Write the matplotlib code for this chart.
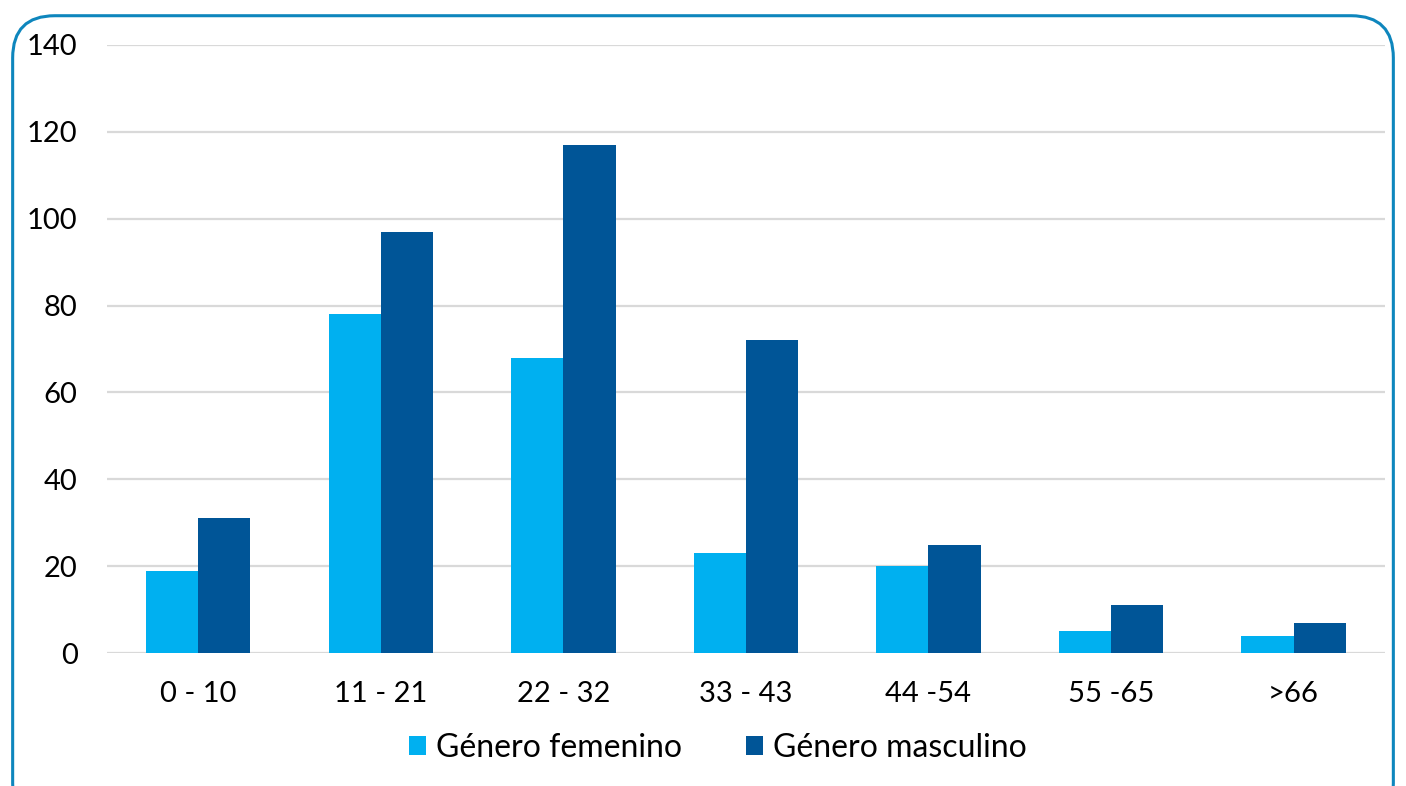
import numpy as np
import matplotlib.pyplot as plt
from matplotlib.patches import FancyBboxPatch

categories = ['0 - 10', '11 - 21', '22 - 32', '33 - 43', '44 -54', '55 -65', '>66']
femenino = [19, 78, 68, 23, 20, 5, 4]
masculino = [31, 97, 117, 72, 25, 11, 7]

plt.rcParams['font.family'] = ['Lato', 'DejaVu Sans']

fig = plt.figure(figsize=(14.06, 7.86), dpi=100)
ax = fig.add_axes([0.076, 0.169, 0.909, 0.774])

# rounded frame around the chart
frame = FancyBboxPatch((0.009, -0.05), 0.982, 1.03, boxstyle='round,pad=0,rounding_size=0.03',
                       transform=fig.transFigure, fill=False, edgecolor='#0e86bd',
                       linewidth=2.2, mutation_aspect=1.79)
fig.patches.append(frame)

x = np.arange(len(categories))
w = 0.286
ax.bar(x - w / 2, femenino, w, color='#00b0f0', label='Género femenino', zorder=3)
ax.bar(x + w / 2, masculino, w, color='#005597', label='Género masculino', zorder=3)

ax.set_xlim(-0.5, len(categories) - 0.5)
ax.set_ylim(0, 140)
ax.set_yticks(range(0, 141, 20))
ax.yaxis.grid(True, color='#d9d9d9', linewidth=1.6, zorder=0)
for s in ax.spines.values():
    s.set_visible(False)
ax.tick_params(length=0, labelsize=21, colors='black')
ax.tick_params(axis='y', pad=21)
ax.tick_params(axis='x', pad=20)
ax.set_xticks(x)
ax.set_xticklabels(categories)

ax.legend(loc='center', bbox_to_anchor=(0.478, -0.156), ncol=2, frameon=False,
          fontsize=23, handlelength=0.55, handleheight=0.55, handletextpad=0.3,
          columnspacing=2.0)

fig.savefig('out.png', dpi=100)
